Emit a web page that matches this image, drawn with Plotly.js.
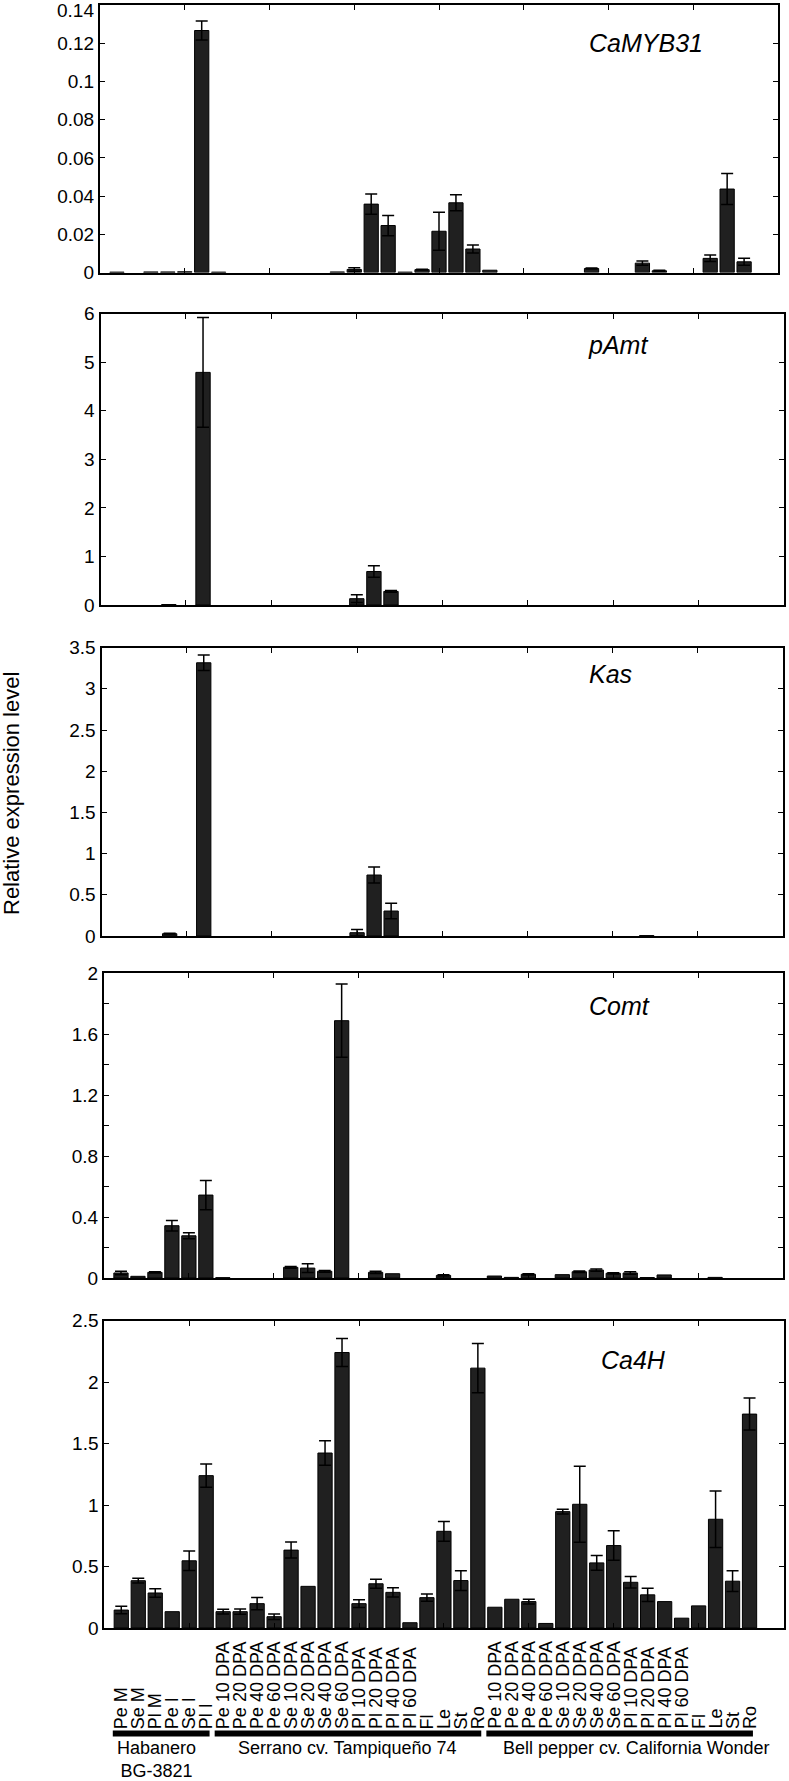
<!DOCTYPE html>
<html>
<head>
<meta charset="utf-8">
<script src="https://cdn.plot.ly/plotly-3.0.1.min.js"></script>
<style>html,body{margin:0;padding:0;background:#fff;overflow:hidden;}#chart{width:789px;height:1781px;}</style>
</head>
<body>
<div id="chart"></div>
<script>
// ---------------- DATA ----------------
const categories = [
  'Pe M','Se M','Pl M','Pe I','Se I','Pl I',
  'Pe 10 DPA','Pe 20 DPA','Pe 40 DPA','Pe 60 DPA','Se 10 DPA','Se 20 DPA','Se 40 DPA','Se 60 DPA',
  'Pl 10 DPA','Pl 20 DPA','Pl 40 DPA','Pl 60 DPA','Fl','Le','St','Ro',
  'Pe 10 DPA','Pe 20 DPA','Pe 40 DPA','Pe 60 DPA','Se 10 DPA','Se 20 DPA','Se 40 DPA','Se 60 DPA',
  'Pl 10 DPA','Pl 20 DPA','Pl 40 DPA','Pl 60 DPA','Fl','Le','St','Ro'
];
const groupNames = ['Habanero<br>BG-3821', 'Serrano cv. Tampiqueño 74', 'Bell pepper cv. California Wonder'];
const groupFirst = [0, 6, 22];
const groupLast = [5, 21, 37];

const geneNames = ['CaMYB31', 'pAmt', 'Kas', 'Comt', 'Ca4H'];

// tick values / labels of the top panel
const camybTickVals = [0, 0.02, 0.04, 0.06, 0.08, 0.1, 0.12, 0.14];
const camybTickText = ['0', '0.02', '0.04', '0.06', '0.08', '0.1', '0.12', '0.14'];

const camyb31 = [0.0002,0,0.0003,0.0003,0.0004,0.1267,
  0.0002,0,0,0,0,0,0,0.0003,0.0016,0.0358,0.0246,0.0002,0.0015,0.0216,0.0365,0.0123,
  0.0012,0,0,0,0,0,0.0021,0,0,0.0049,0.0009,0,0,0.0074,0.0437,0.0056];
const camyb31Err = [null,null,null,null,null,0.005,
  null,null,null,null,null,null,null,null,0.0009,0.0053,0.0053,null,0.0002,0.010,0.0042,0.0021,
  null,null,null,null,null,null,0.0003,null,null,0.0011,0.0003,null,null,0.0017,0.0081,0.0018];

const pamt = [0,0,0,0.01,0,4.79,
  0,0,0,0,0,0,0,0,0.13,0.69,0.28,0,0,0,0,0,
  0,0,0,0,0,0,0,0,0,0,0,0,0,0,0,0];
const pamtErr = [null,null,null,null,null,1.13,
  null,null,null,null,null,null,null,null,0.08,0.12,0.02,null,null,null,null,null,
  null,null,null,null,null,null,null,null,null,null,null,null,null,null,null,null];

const kas = [0,0,0,0.028,0,3.316,
  0,0,0,0,0,0,0,0,0.04,0.74,0.303,0,0,0,0,0,
  0,0,0,0,0,0,0,0,0,0.005,0,0,0,0,0,0];
const kasErr = [null,null,null,0.004,null,0.093,
  null,null,null,null,null,null,null,null,0.04,0.097,0.093,null,null,null,null,null,
  null,null,null,null,null,null,null,null,null,null,null,null,null,null,null,null];

const comt = [0.033,0.011,0.037,0.343,0.277,0.544,
  0.002,0,0,0,0.07,0.065,0.044,1.688,0,0.037,0.028,0,0,0.017,0,0,
  0.013,0.004,0.024,0,0.022,0.041,0.052,0.031,0.033,0.003,0.02,0,0,0.004,0,0];
const comtErr = [0.011,null,0.004,0.035,0.02,0.096,
  null,null,null,null,0.006,0.029,0.006,0.24,null,0.007,null,null,null,0.004,null,null,
  null,null,0.004,null,null,0.005,0.007,0.004,0.008,null,null,null,null,null,null,null];

const ca4h = [0.146,0.385,0.285,0.133,0.547,1.24,
  0.133,0.133,0.198,0.092,0.634,0.339,1.424,2.242,0.198,0.36,0.29,0.043,0.247,0.787,0.386,2.115,
  0.169,0.234,0.215,0.037,0.947,1.007,0.53,0.671,0.372,0.27,0.215,0.08,0.18,0.885,0.381,1.741];
const ca4hErr = [0.03,0.019,0.035,null,0.079,0.095,
  0.019,0.021,0.05,0.022,0.065,null,0.10,0.114,0.032,0.036,0.038,null,0.029,0.08,0.08,0.2,
  null,null,0.019,null,0.019,0.31,0.06,0.12,0.047,0.054,null,null,null,0.23,0.084,0.13];

const series = [camyb31, pamt, kas, comt, ca4h];
const seriesErr = [camyb31Err, pamtErr, kasErr, comtErr, ca4hErr];
const yMax = [0.14, 6, 3.5, 2, 2.5];
const yDtick = [0.02, 1, 0.5, 0.4, 0.5];
const yMinor = [null, null, null, 0.2, null];

// ---------------- LAYOUT ----------------
const W = 789, H = 1781;
// panel frames in pixels: [left, right, top, bottom]
const frames = [
  [100, 778, 5, 272.5],
  [100.5, 784, 313.5, 605],
  [101.5, 783, 647.5, 936],
  [104, 783, 973, 1278],
  [104.3, 783.5, 1320.7, 1628]
];
const geneLabelPos = [[587, 43], [586, 345], [587, 674], [587, 1006], [599, 1360]];
const FONT = 'Liberation Sans, Arial, Helvetica, sans-serif';
const px2x = p => p / W;
const px2y = p => 1 - p / H;

const xPos = categories.map((c, i) => i + 1);
const traces = [];
const layout = {
  width: W, height: H,
  margin: {l: 0, r: 0, t: 0, b: 0},
  paper_bgcolor: '#fff', plot_bgcolor: '#fff',
  showlegend: false,
  bargap: 0.16,
  font: {family: FONT, color: '#000', size: 18},
  annotations: [], shapes: []
};

series.forEach((vals, k) => {
  const n = k === 0 ? '' : String(k + 1);
  traces.push({
    type: 'bar', x: xPos, y: vals,
    xaxis: 'x' + n, yaxis: 'y' + n,
    marker: {color: '#202020', line: {color: '#000', width: vals.map(v => v > 0 ? 1 : 0)}},
    error_y: {type: 'data', array: seriesErr[k].map(e => (e == null ? NaN : e)), visible: true,
              color: '#000', thickness: 1.5, width: 6},
    hoverinfo: 'x+y'
  });
  const f = frames[k];
  layout['xaxis' + n] = {
    domain: [px2x(f[0]), px2x(f[1])],
    anchor: 'y' + n,
    range: [0, 40],
    tickvals: [5, 10, 15, 20, 25, 30, 35],
    showticklabels: false,
    ticks: 'inside', ticklen: 5, tickwidth: 1, tickcolor: '#000',
    showline: true, linewidth: 2, linecolor: '#000', mirror: 'ticks',
    showgrid: false, zeroline: false, fixedrange: true
  };
  const ya = {
    domain: [px2y(f[3]), px2y(f[2])],
    anchor: 'x' + n,
    range: [0, yMax[k] * 1.0004],
    dtick: yDtick[k], tick0: 0,
    ticks: 'inside', ticklen: 5, tickwidth: 1, tickcolor: '#000',
    tickfont: {family: FONT, size: 19, color: '#000'},
    showline: true, linewidth: 2, linecolor: '#000', mirror: 'ticks',
    showgrid: false, zeroline: false, fixedrange: true
  };
  if (k === 0) {
    // top label is drawn as an annotation so that it stays inside the page
    ya.tickmode = 'array';
    ya.tickvals = camybTickVals;
    ya.ticktext = camybTickText.map((t, i) => (i === camybTickText.length - 1 ? '' : t));
  }
  if (yMinor[k]) ya.minor = {dtick: yMinor[k], ticks: 'inside', ticklen: 5, tickwidth: 1, tickcolor: '#000', showgrid: false};
  layout['yaxis' + n] = ya;

  layout.annotations.push({
    xref: 'paper', yref: 'paper',
    x: px2x(geneLabelPos[k][0]), y: px2y(geneLabelPos[k][1]),
    xanchor: 'left', yanchor: 'middle',
    text: '<i>' + geneNames[k] + '</i>',
    showarrow: false,
    font: {family: FONT, size: 25, color: '#000'}
  });
});

// top tick label of first panel
layout.annotations.push({
  xref: 'paper', yref: 'paper',
  x: px2x(95), y: px2y(-1),
  xanchor: 'right', yanchor: 'top',
  text: camybTickText[camybTickText.length - 1], showarrow: false,
  borderpad: 0,
  font: {family: FONT, size: 19, color: '#000'}
});

// category labels (rotated, bottom-aligned)
categories.forEach((c, i) => {
  layout.annotations.push({
    xref: 'x5', yref: 'paper',
    x: xPos[i], y: px2y(1730),
    xanchor: 'center', yanchor: 'bottom',
    textangle: -90,
    text: c, showarrow: false,
    borderpad: 0,
    font: {family: FONT, size: 18, color: '#000'}
  });
});

// group bars and labels
const groupLabelX = [156, 347, 636];
groupNames.forEach((g, j) => {
  layout.shapes.push({
    type: 'line', xref: 'x5', yref: 'paper',
    x0: xPos[groupFirst[j]] - 0.5, x1: xPos[groupLast[j]] + 0.2,
    y0: px2y(1733.5), y1: px2y(1733.5),
    line: {color: '#000', width: 6}
  });
  layout.annotations.push({
    xref: 'paper', yref: 'paper',
    x: px2x(groupLabelX[j]), y: px2y(1737),
    xanchor: 'center', yanchor: 'top',
    text: g, showarrow: false,
    borderpad: 0,
    font: {family: FONT, size: 18, color: '#000'}
  });
});

// y-axis title
layout.annotations.push({
  xref: 'paper', yref: 'paper',
  x: px2x(11), y: px2y(794),
  xanchor: 'center', yanchor: 'middle',
  textangle: -90,
  text: 'Relative expression level', showarrow: false,
  font: {family: FONT, size: 22, color: '#000'}
});

Plotly.newPlot('chart', traces, layout, {displayModeBar: false, staticPlot: true});
</script>
</body>
</html>
